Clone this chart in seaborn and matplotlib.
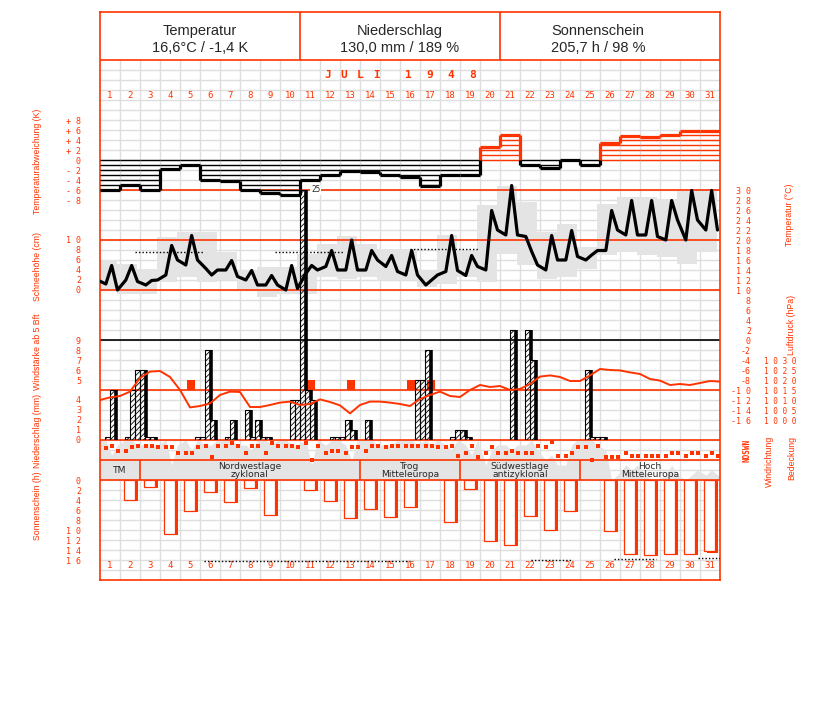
import numpy as np
import matplotlib
matplotlib.use("Agg")
import matplotlib.pyplot as plt
import seaborn as sns

# ====== DATA: Juli 1948 ======
days = list(range(1, 32))

# Temperaturabweichung (K), Tageswerte
temp_dev = [-6.0, -5.0, -6.0, -1.7, -1.0, -4.0, -4.3, -6.0, -6.7, -7.0,
            -4.1, -2.9, -2.2, -2.3, -3.0, -3.3, -5.3, -2.9, -3.0, 2.7,
            5.0, -0.9, -1.5, 0.0, -0.9, 3.5, 4.8, 4.7, 5.1, 5.9, 5.8]

# Temperatur (°C) zu den Terminen 7, 14, 21 Uhr
temp_prev_21 = 12.0
temp_07 = [11.2, 12.0, 11.0, 13.0, 15.0, 14.3, 14.0, 12.0, 11.0, 10.0,
           13.3, 14.7, 14.0, 14.0, 14.7, 13.0, 11.0, 13.7, 12.9, 14.0,
           21.0, 20.7, 14.0, 16.0, 16.0, 17.9, 21.0, 21.0, 20.0, 20.0, 22.0]
temp_14 = [14.9, 14.9, 11.9, 18.9, 20.9, 13.0, 15.9, 13.9, 12.9, 14.9,
           14.9, 17.9, 20.0, 17.9, 16.9, 17.9, 12.0, 20.9, 16.9, 25.9,
           30.9, 17.7, 20.9, 21.9, 17.0, 25.9, 27.9, 27.9, 27.9, 29.9, 29.9]
temp_21 = [10.0, 11.7, 12.0, 16.0, 16.0, 14.0, 12.7, 11.0, 11.0, 10.3,
           14.0, 14.0, 14.0, 16.0, 13.7, 13.0, 13.0, 13.9, 14.7, 22.0,
           21.0, 15.0, 16.0, 16.7, 17.9, 22.0, 21.0, 20.7, 24.0, 24.0, 22.0]

# Tagesspanne Minimum / Maximum (grau)
temp_min = [10.0, 9.3, 9.3, 11.7, 12.7, 11.7, 12.0, 10.0, 8.7, 9.3,
            9.3, 12.7, 12.3, 12.7, 12.0, 12.0, 10.7, 11.3, 12.7, 11.7,
            17.3, 15.0, 12.3, 12.7, 14.3, 17.0, 17.7, 17.0, 16.7, 15.3, 17.7]
temp_max = [16.0, 15.3, 14.3, 20.7, 21.7, 21.7, 17.7, 14.0, 14.7, 14.7,
            17.3, 19.3, 20.9, 19.3, 18.3, 18.3, 14.0, 21.0, 18.0, 27.0,
            30.9, 27.7, 21.7, 23.3, 18.7, 27.3, 28.7, 28.7, 28.3, 30.3, 30.2]

# punktierte Linien im Temperaturfeld (Tag von, bis, °C)
tdot_from = [1.75, 8.75, 15.5]
tdot_to = [5.15, 12.15, 18.9]
tdot_val = [17.7, 17.7, 18.2]

# Niederschlag (mm) je 6 Stunden
precip_6h = [
    [0, 0.3, 5, 0], [0, 0.3, 5, 7], [7, 0.3, 0.3, 0], [0, 0, 0, 0], [0, 0, 0, 0.3],
    [0.3, 9, 2, 0], [0, 0.3, 2, 0], [0, 3, 0.3, 2], [0.3, 0.3, 0, 0], [0, 0, 4, 4],
    [25, 5, 4, 0], [0, 0, 0.3, 0.3], [0.3, 2, 1, 0], [0, 2, 0, 0], [0, 0, 0, 0],
    [0, 0, 0, 6], [6, 9, 0, 0], [0, 0, 0.3, 1], [1, 0.3, 0, 0], [0, 0, 0, 0],
    [0, 0, 11, 0], [0, 11, 8, 0], [0, 0, 0, 0], [0, 0, 0, 0], [0, 7, 0.3, 0.3],
    [0.3, 0, 0, 0], [0, 0, 0, 0], [0, 0, 0, 0], [0, 0, 0, 0], [0, 0, 0, 0], [0, 0, 0, 0],
]

# Windstärke ab 5 Bft
wind_days = [5, 11, 13, 16, 17]
wind_bft = [5, 5, 5, 5, 5]

# Luftdruck (hPa), alle 12 Stunden ab 1. Juli 0 Uhr
pressure = [1010.0, 1011.3, 1012.0, 1014.2, 1021.0, 1024.2, 1024.5, 1021.5, 1015.0, 1006.3,
            1007.0, 1008.3, 1012.5, 1014.2, 1014.0, 1006.5, 1006.5, 1007.5, 1008.7, 1009.2,
            1007.5, 1008.0, 1010.3, 1009.0, 1007.3, 1003.3, 1007.5, 1009.2, 1009.2, 1008.7,
            1008.0, 1007.0, 1010.5, 1012.5, 1014.2, 1012.0, 1011.5, 1015.0, 1017.5, 1016.5,
            1017.0, 1015.0, 1015.5, 1018.0, 1021.7, 1022.3, 1021.5, 1019.5, 1019.5, 1022.3,
            1025.5, 1025.0, 1024.8, 1023.8, 1023.0, 1020.5, 1019.7, 1017.5, 1018.0, 1017.5,
            1018.5, 1019.5, 1019.2]

# Windrichtung (Grad) 7, 14, 21 Uhr
wind_dir = [
    [210, 258, 168], [168, 228, 258], [258, 258, 228], [228, 228, 132], [132, 132, 228],
    [258, 48, 258], [258, 312, 258], [132, 258, 258], [132, 312, 258], [258, 258, 228],
    [312, 0, 258], [132, 168, 168], [132, 228, 228], [168, 258, 258], [228, 258, 258],
    [258, 258, 258], [258, 258, 228], [228, 258, 78], [132, 258, 48], [132, 228, 132],
    [132, 168, 132], [132, 132, 258], [228, 330, 78], [78, 132, 228], [228, 0, 258],
    [48, 48, 48], [132, 78, 78], [78, 78, 78], [78, 132, 132], [78, 132, 132], [78, 132, 78],
]

# Bedeckung (Achtel) 7, 14, 21 Uhr
cloud = [
    [8, 5, 7], [8, 8, 7], [7, 7, 7], [8, 3, 7], [8, 6, 8], [7, 7, 8], [8, 8, 7], [7, 6, 8],
    [8, 7, 8], [8, 7, 7], [8, 3, 8], [7, 8, 8], [7, 4, 8], [8, 8, 7], [7, 7, 8], [8, 8, 7],
    [8, 7, 8], [7, 6, 8], [7, 5, 8], [3, 6, 7], [7, 6, 7], [7, 8, 6], [4, 5, 3], [3, 7, 8],
    [8, 8, 7], [6, 0, 1], [3, 2, 3], [1, 0, 0], [1, 3, 1], [0, 1, 2], [1, 2, 1],
]

# Großwetterlagen
gwl_names = ["TM", "Nordwestlage\nzyklonal", "Trog\nMitteleuropa",
             "Südwestlage\nantizyklonal", "Hoch\nMitteleuropa"]
gwl_start = [1, 3, 14, 19, 25]
gwl_end = [2, 13, 18, 24, 31]

# Sonnenscheindauer (h)
sunshine = [0, 3.9, 1.3, 10.7, 6.1, 2.3, 4.3, 1.5, 6.9, 0,
            1.9, 4.1, 7.5, 5.7, 7.3, 5.3, 0, 8.3, 1.7, 12.1,
            12.9, 7.1, 9.9, 6.1, 0, 10.1, 14.7, 14.9, 14.7, 14.7, 14.2]

# punktierte Linien im Sonnenscheinfeld (Tag von, bis, h)
sdot_from = [5.2, 21.55, 25.7, 29.9]
sdot_to = [15.5, 23.6, 27.8, 31.0]
sdot_val = [16.2, 16.0, 15.8, 15.6]

# ====== STYLE ======
RED = "#ff3300"
GRAY = "#e4e4e4"
GRID = "#dedede"
MONO = "DejaVu Sans Mono"
FIG_W, FIG_H = 827, 702
X0, X1, Y0, Y1 = 100, 720, 12, 580

sns.set_style("white")
plt.rcParams["font.family"] = ["Liberation Sans", "DejaVu Sans"]
plt.rcParams["hatch.linewidth"] = 0.6

fig = plt.figure(figsize=(FIG_W / 100, FIG_H / 100), dpi=100)


def panel(top, bottom, ylim):
    ax = fig.add_axes([X0 / FIG_W, 1 - bottom / FIG_H,
                       (X1 - X0) / FIG_W, (bottom - top) / FIG_H])
    ax.set_xlim(0, 31)
    ax.set_ylim(*ylim)
    ax.patch.set_alpha(0)
    for s in ax.spines.values():
        s.set_visible(False)
    ax.set_xticks([])
    ax.set_yticks([])
    return ax


def spaced(v):
    # digits drawn letter-spaced like the original bitmap font
    s = str(v)
    sign = s[0] if s[0] in "+-" else ""
    return sign + " ".join(s[len(sign):])


def left_ticks(ax, ticks, labels):
    ax.set_yticks(ticks, labels)
    ax.tick_params(axis="y", length=0, pad=19 * 0.72, labelsize=6,
                   labelcolor=RED, labelfontfamily=MONO)


def right_ticks(ax, ticks, labels, right_px):
    ax.yaxis.tick_right()
    ax.set_yticks(ticks, labels)
    ax.tick_params(axis="y", length=0, pad=(right_px - X1) * 0.72, labelsize=6,
                   labelcolor=RED, labelfontfamily=MONO)
    for t in ax.get_yticklabels():
        t.set_horizontalalignment("right")


def fig_text(x, y, s, **kw):
    fig.text(x / FIG_W, 1 - y / FIG_H, s, **kw)


d = np.array(days)
obs_x = np.concatenate([[-3 / 24], (d[:, None] - 1 + np.array([7, 14, 21]) / 24).ravel()])

# ---- grid and header (pixel layout) ----
ax_g = panel(Y0, Y1, (Y1, Y0))
ax_g.hlines(np.arange(70, Y1, 10), 0, 31, color=GRID, lw=1)
ax_g.vlines(np.arange(1, 31), 60, Y1, color=GRID, lw=1)
for title, value, xc in [("Temperatur", "16,6°C / -1,4 K", 5),
                         ("Niederschlag", "130,0 mm / 189 %", 15),
                         ("Sonnenschein", "205,7 h / 98 %", 24.9)]:
    ax_g.text(xc, 31, title, ha="center", va="center", fontsize=10.5)
    ax_g.text(xc, 48, value, ha="center", va="center", fontsize=10.5)
for i, ch in enumerate("JULI"):
    ax_g.text((328 + 16 * i - X0) / 20, 75, ch, ha="center", va="center",
              color=RED, fontsize=8, fontweight="bold", family=MONO)
for i, ch in enumerate("1948"):
    ax_g.text((408 + 21.5 * i - X0) / 20, 75, ch, ha="center", va="center",
              color=RED, fontsize=8, fontweight="bold", family=MONO)
for day in days:
    for yy in (96, 566):
        ax_g.text(day - 0.5, yy, str(day), ha="center", va="center",
                  color=RED, fontsize=6.5, family=MONO)

# ---- Bedeckung (grey) ----
ax_c = panel(440, 480, (0, 8))
cl = np.concatenate([[cloud[0][0]], np.ravel(cloud), [cloud[-1][-1]]])
cx = np.concatenate([obs_x, [31]])
ax_c.fill_between(cx, 0, cl, color=GRAY, lw=0)

# ---- Temperatur: Tagesspanne ----
ax_tb = panel(180, 420, (-16, 32))
ax_tb.bar(d - 1 - 1 / 6, np.array(temp_max) - np.array(temp_min), bottom=temp_min,
          width=1, align="edge", color=GRAY, lw=0)
ax_tb.hlines(tdot_val, tdot_from, tdot_to, color="black", lw=1, linestyles=(0, (1, 1.5)))

# ---- major lines ----
ax_m = panel(Y0, Y1, (Y1, Y0))
ax_m.hlines([60, 190, 240, 290, 390, 440, 460, 480], 0, 31, color=RED, lw=1.2)
ax_m.hlines(340, 0, 31, color="black", lw=1.2)
ax_m.vlines([10, 20], Y0, 60, color=RED, lw=1.2)
for s in ax_m.spines.values():
    s.set_visible(True)
    s.set_color(RED)
    s.set_linewidth(1.2)
for name, a, b in zip(gwl_names, gwl_start, gwl_end):
    if a > 1:
        ax_m.vlines(a - 1, 460, 480, color=RED, lw=1.2)
    ax_m.text((a - 1 + b) / 2, 470.5, name, ha="center", va="center",
              fontsize=6.6, linespacing=0.95, family="DejaVu Sans")

# ---- Temperaturabweichung ----
ax_dev = panel(120, 200, (-8, 8))
dev_ticks = [8, 6, 4, 2, 0, -2, -4, -6, -8]
left_ticks(ax_dev, dev_ticks,
           [("+ " if v > 0 else "- " if v < 0 else "") + str(abs(v)) for v in dev_ticks])
for day, v in zip(days, temp_dev):
    col = RED if v > 0 else "black"
    step = 1 if v > 0 else -1
    lev = np.arange(0, v, step)
    if len(lev):
        ax_dev.hlines(lev, day - 1, day, color=col, lw=1)
    ax_dev.hlines(v, day - 1, day, color=col, lw=2.3)
for i in range(len(temp_dev) - 1):
    a, b = temp_dev[i], temp_dev[i + 1]
    lo, hi = min(a, b), max(a, b)
    if hi > 0:
        ax_dev.vlines(i + 1, max(lo, 0), hi, color=RED, lw=2.3)
    if lo < 0:
        ax_dev.vlines(i + 1, lo, min(hi, 0), color="black", lw=2.3)

# ---- Schneehöhe (nur Skala) ----
ax_s = panel(240, 290, (0, 10))
snow_ticks = [10, 8, 6, 4, 2, 0]
left_ticks(ax_s, snow_ticks, [spaced(v) for v in snow_ticks])

# ---- Windstärke ab 5 Bft ----
ax_w = panel(340, 390, (4, 9))
left_ticks(ax_w, [9, 8, 7, 6, 5], ["9", "8", "7", "6", "5"])
ax_w.bar(np.array(wind_days) - 1 + 0.35, np.array(wind_bft) - 4, bottom=4,
         width=0.4, align="edge", color=RED, lw=0)

# ---- Niederschlag ----
ax_pr = panel(190, 440, (0, 25))
left_ticks(ax_pr, [4, 3, 2, 1, 0], ["4", "3", "2", "1", "0"])
pr = np.ravel(precip_6h)
px = np.arange(len(pr)) / 4
nz = pr > 0
ax_pr.bar(px[nz], pr[nz], width=0.25, align="edge", facecolor="none",
          edgecolor="black", hatch="//////", lw=0.8)
nxt = np.concatenate([pr[1:], [0]])
sh = pr > nxt
ax_pr.vlines(px[sh] + 0.25 + 0.05, nxt[sh], pr[sh], color="black", lw=2.6)
for xx in px[pr >= 25]:
    ax_pr.text(xx + 0.55, 25, "25", ha="left", va="center", fontsize=5.5,
               family=MONO, bbox=dict(fc="white", ec="none", pad=0.6))

# ---- Temperatur (Linie) ----
ax_t = panel(180, 420, (-16, 32))
t_ticks = list(range(30, -17, -2))
right_ticks(ax_t, t_ticks, [spaced(v) for v in t_ticks], 751)
temps = np.concatenate([[temp_prev_21], np.column_stack([temp_07, temp_14, temp_21]).ravel()])
sns.lineplot(x=obs_x, y=temps, ax=ax_t, color="black", lw=2.3, sort=False)
ax_t.set_xlim(0, 31)

# ---- Luftdruck ----
ax_p = panel(360, 420, (1000, 1030))
p_ticks = [1030, 1025, 1020, 1015, 1010, 1005, 1000]
right_ticks(ax_p, p_ticks, [spaced(v) for v in p_ticks], 796)
ax_p.tick_params(axis="y", labelsize=5.6)
sns.lineplot(x=np.arange(len(pressure)) * 0.5, y=pressure, ax=ax_p,
             color=RED, lw=1.4, sort=False)
ax_p.set_xlim(0, 31)

# ---- Windrichtung ----
ax_wd = panel(440, 460, (0, 360))
sns.scatterplot(x=obs_x[1:], y=np.ravel(wind_dir), ax=ax_wd, marker="s", s=5,
                color=RED, linewidth=0, clip_on=False)
ax_wd.set_xlim(0, 31)
ax_wd.set_ylim(0, 360)

# ---- Sonnenschein ----
ax_sun = panel(480, 570, (18, 0))
sun_ticks = list(range(0, 17, 2))
left_ticks(ax_sun, sun_ticks, [spaced(v) for v in sun_ticks])
sun = np.array(sunshine)
ok = sun > 0
ax_sun.bar(d[ok] - 1 + 0.22 + 0.12, sun[ok] + 0.3, width=0.55, align="edge",
           color=RED, lw=0)
ax_sun.bar(d[ok] - 1 + 0.22, sun[ok], width=0.55, align="edge",
           facecolor="white", edgecolor=RED, lw=0.9)
ax_sun.hlines(sdot_val, sdot_from, sdot_to, color="black", lw=1, linestyles=(0, (1, 1.5)))

# ---- Achsentitel ----
lab = dict(color=RED, fontsize=6.3, rotation=90, ha="center", va="center",
           family=["Liberation Sans", "DejaVu Sans"])
fig_text(37, 161, "Temperaturabweichung (K)", **lab)
fig_text(37, 266, "Schneehöhe (cm)", **lab)
fig_text(37, 352, "Windstärke ab 5 Bft", **lab)
fig_text(37, 431, "Niederschlag (mm)", **lab)
fig_text(37, 506, "Sonnenschein (h)", **lab)
fig_text(790, 215, "Temperatur (°C)", **lab)
fig_text(791, 325, "Luftdruck (hPa)", **lab)
fig_text(769, 461, "Windrichtung", **lab)
fig_text(792, 458, "Bedeckung", **lab)
fig_text(747, 450, "NOSWN", color=RED, fontsize=5.5, rotation=90, ha="center",
         va="center", family=MONO, fontweight="bold")

fig.savefig("out.png", dpi=100)
